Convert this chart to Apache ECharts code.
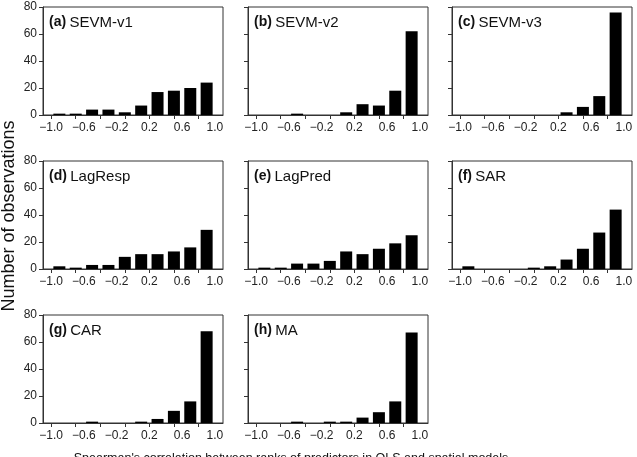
<!DOCTYPE html>
<html>
<head>
<meta charset="utf-8">
<script src="https://cdn.jsdelivr.net/npm/echarts@6/dist/echarts.min.js"></script>
<style>
html,body{margin:0;padding:0;background:#fff;}
#chart{width:637px;height:457px;}
</style>
</head>
<body>
<div id="chart"></div>
<script>
// Bin centres of the correlation histogram (bins of width 0.2 from -1 to 1)
const binCenters = [-0.9, -0.7, -0.5, -0.3, -0.1, 0.1, 0.3, 0.5, 0.7, 0.9];
const xLabelValues = [-1.0, -0.6, -0.2, 0.2, 0.6, 1.0];
const xTickValues = [-1.0, -0.7, -0.4, -0.1, 0.2, 0.5, 0.8];
const yTicks = [0, 20, 40, 60, 80];

const panelTags = ['(a)', '(b)', '(c)', '(d)', '(e)', '(f)', '(g)', '(h)'];
const panelNames = ['SEVM-v1', 'SEVM-v2', 'SEVM-v3', 'LagResp', 'LagPred', 'SAR', 'CAR', 'MA'];

const sevmV1 = [1, 1, 4, 4, 2, 7, 17, 18, 20, 24];
const sevmV2 = [0, 0, 1, 0, 0, 2, 8, 7, 18, 62];
const sevmV3 = [0, 0, 0, 0, 0, 0, 2, 6, 14, 76];
const lagResp = [2, 1, 3, 3, 9, 11, 11, 13, 16, 29];
const lagPred = [1, 1, 4, 4, 6, 13, 11, 15, 19, 25];
const sar = [2, 0, 0, 0, 1, 2, 7, 15, 27, 44];
const car = [0, 0, 1, 0, 0, 1, 3, 9, 16, 68];
const ma = [0, 0, 1, 0, 1, 1, 4, 8, 16, 67];

const panelValues = [sevmV1, sevmV2, sevmV3, lagResp, lagPred, sar, car, ma];

const yTitle = 'Number of observations';
const xTitle = "Spearman's correlation between ranks of predictors in OLS and spatial models";

const FONT = "'Liberation Sans', Arial, sans-serif";
const colLeft = [43, 248, 452];
const colWidth = 180;
const rowTop = [7, 161, 315];
const rowHeight = 108;

const grids = [], xAxes = [], yAxes = [], series = [], graphics = [];
panelValues.forEach((vals, i) => {
  const r = Math.floor(i / 3), c = i % 3;
  grids.push({
    left: colLeft[c], top: rowTop[r], width: colWidth, height: rowHeight,
    show: true, borderColor: '#333', borderWidth: 1, backgroundColor: 'transparent'
  });
  xAxes.push({
    type: 'value', gridIndex: i, min: -1.1, max: 1.1, position: 'bottom',
    axisLine: { show: true, onZero: false, lineStyle: { color: '#333', width: 1 } },
    axisTick: { show: true, inside: false, length: 4, customValues: xTickValues, lineStyle: { color: '#333' } },
    axisLabel: {
      show: true, customValues: xLabelValues, margin: 7,
      fontFamily: FONT, fontSize: 12, color: '#222',
      formatter: v => (v < 0 ? '\u2212' : '') + Math.abs(v).toFixed(1)
    },
    splitLine: { show: false }
  });
  yAxes.push({
    type: 'value', gridIndex: i, min: 0, max: 80, interval: 20, position: 'left',
    axisLine: { show: true, onZero: false, lineStyle: { color: '#333', width: 1 } },
    axisTick: { show: true, inside: false, length: 4, lineStyle: { color: '#333' } },
    axisLabel: { show: c === 0, margin: 6, fontFamily: FONT, fontSize: 12, color: '#222' },
    splitLine: { show: false }
  });
  series.push({
    type: 'bar', xAxisIndex: i, yAxisIndex: i,
    data: binCenters.map((x, k) => [x, vals[k]]),
    barWidth: 12,
    itemStyle: { color: '#000' },
    silent: true
  });
  graphics.push({
    type: 'text', left: colLeft[c] + 6, top: rowTop[r] + 8,
    style: {
      text: '{t|' + panelTags[i] + '} {n|' + panelNames[i] + '}',
      rich: {
        t: { fontFamily: FONT, fontSize: 14, fontWeight: 'bold', fill: '#111' },
        n: { fontFamily: FONT, fontSize: 15, fill: '#111' }
      }
    }
  });
});

graphics.push({
  type: 'text', x: 9, y: 216, rotation: Math.PI / 2,
  style: { text: yTitle, fontFamily: FONT, fontSize: 18, fill: '#111', align: 'center', verticalAlign: 'middle' }
});
graphics.push({
  type: 'text', x: 291, y: 452,
  style: { text: xTitle, fontFamily: FONT, fontSize: 12.5, fill: '#111', align: 'center', verticalAlign: 'top' }
});

const chart = echarts.init(document.getElementById('chart'), null, { renderer: 'canvas' });
chart.setOption({
  animation: false,
  backgroundColor: '#fff',
  grid: grids,
  xAxis: xAxes,
  yAxis: yAxes,
  series: series,
  graphic: graphics
});
</script>
</body>
</html>
